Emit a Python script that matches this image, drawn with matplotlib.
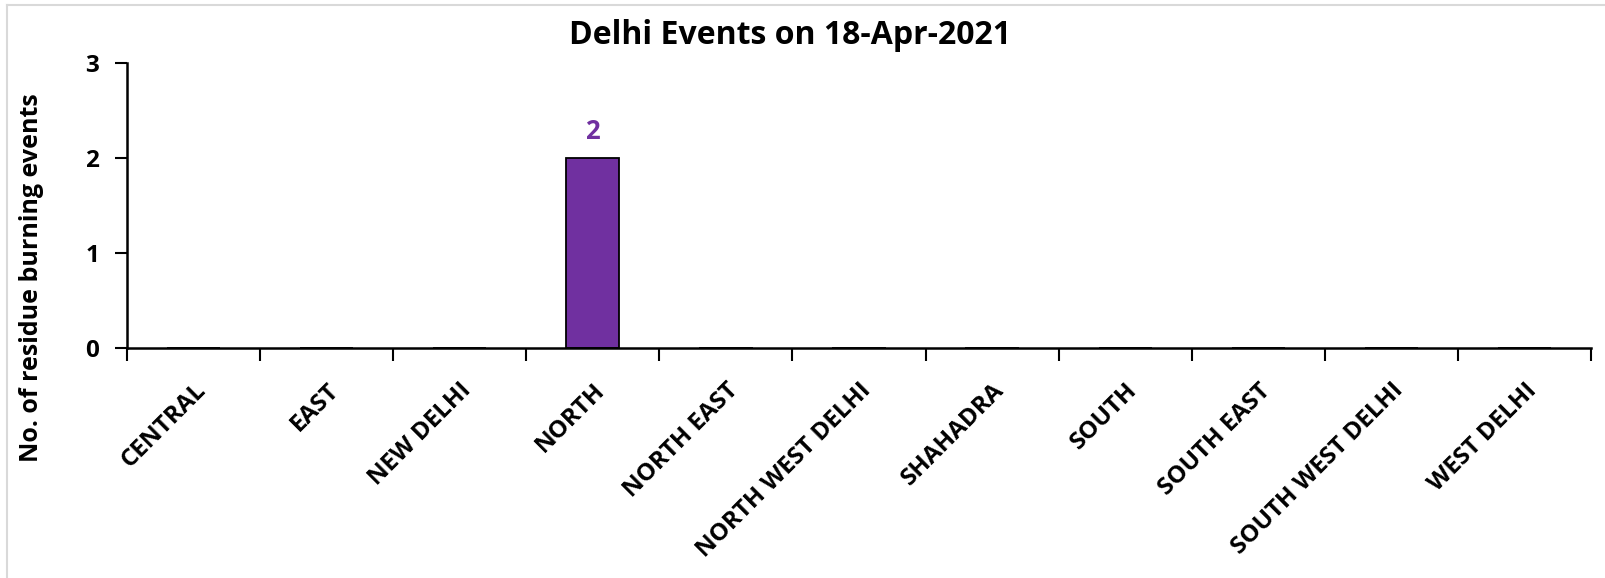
import numpy as np
import matplotlib
matplotlib.use('Agg')
import matplotlib.pyplot as plt
import matplotlib.transforms as mtrans
from matplotlib.lines import Line2D

plt.rcParams['font.family'] = ['Open Sans', 'DejaVu Sans']
plt.rcParams['font.weight'] = 'bold'

# Data
districts = ['CENTRAL', 'EAST', 'NEW DELHI', 'NORTH', 'NORTH EAST',
             'NORTH WEST DELHI', 'SHAHADRA', 'SOUTH', 'SOUTH EAST',
             'SOUTH WEST DELHI', 'WEST DELHI']
events = [0, 0, 0, 2, 0, 0, 0, 0, 0, 0, 0]
y_ticks = [0, 1, 2, 3]

bar_colour = '#7030A0'

fig = plt.figure(figsize=(16.05, 5.78), dpi=100)
W, H = 1605, 578
ax = fig.add_axes([127 / W, 230 / H, 1464 / W, 285 / H])

x = np.arange(len(districts)) + 0.5
bars = ax.bar(x, events, width=0.4, color=bar_colour, edgecolor='black', linewidth=1.3)

# data labels only for non-zero bars
for xi, v in zip(x, events):
    if v > 0:
        ax.text(xi, v + 0.2, str(v), ha='center', va='baseline',
                color=bar_colour, fontsize=18.5, fontweight='bold')

ax.set_xlim(0, len(districts))
ax.set_ylim(0, 3)
ax.set_yticks(y_ticks)
ax.set_yticklabels([str(t) for t in y_ticks], fontsize=17.5, fontweight='bold')

# tick marks at category boundaries, labels at centres
ax.set_xticks(np.arange(len(districts) + 1))
ax.set_xticklabels([])
ax.set_xticks(x, minor=True)
ax.set_xticklabels(districts, minor=True, rotation=45, ha='right',
                   rotation_mode='anchor', fontsize=17.5, fontweight='bold')
shift = mtrans.ScaledTranslation(4 / 100, 0, fig.dpi_scale_trans)
for lbl in ax.get_xticklabels(minor=True):
    lbl.set_transform(lbl.get_transform() + shift)
ax.tick_params(axis='x', which='minor', length=0, pad=22)
ax.tick_params(axis='x', which='major', length=9, width=1.5, direction='out')
ax.tick_params(axis='y', length=9, width=1.5, direction='out', pad=11)

for s in ['top', 'right']:
    ax.spines[s].set_visible(False)
for s in ['left', 'bottom']:
    ax.spines[s].set_linewidth(1.8)

fig.text(790 / W, 1 - 44 / H, 'Delhi Events on 18-Apr-2021', ha='center', va='baseline',
         fontsize=23, fontweight='bold')
fig.text(32 / W, 1 - 278 / H, 'No. of residue burning events', ha='center', va='center',
         rotation=90, fontsize=18, fontweight='bold')

# light frame visible at top and left
fig.add_artist(Line2D([7 / W, 7 / W], [0, 1 - 5 / H], color='#d9d9d9', linewidth=1.5))
fig.add_artist(Line2D([7 / W, 1], [1 - 5 / H, 1 - 5 / H], color='#d9d9d9', linewidth=1.5))

fig.savefig('out.png', dpi=100)
